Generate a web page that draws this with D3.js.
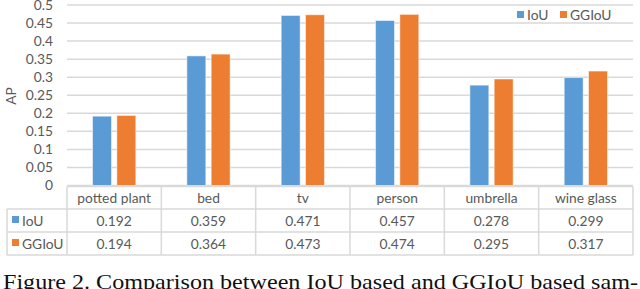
<!DOCTYPE html>
<html><head><meta charset="utf-8">
<script src="https://cdn.jsdelivr.net/npm/d3@7"></script>
<style>body{margin:0;background:#fff;overflow:hidden}svg{display:block}</style>
</head><body>
<script>
const categories = ["potted plant","bed","tv","person","umbrella","wine glass"];
const seriesNames = ["IoU","GGIoU"];
const iou = [0.192,0.359,0.471,0.457,0.278,0.299];
const ggiou = [0.194,0.364,0.473,0.474,0.295,0.317];
const yTicks = [0,0.05,0.1,0.15,0.2,0.25,0.3,0.35,0.4,0.45,0.5];
const yTickLabels = ["0","0.05","0.1","0.15","0.2","0.25","0.3","0.35","0.4","0.45","0.5"];
const colors = ["#5b9bd5","#ed7d31"];
const series = [iou, ggiou];

const W=640,H=289;
const svg=d3.select("body").append("svg").attr("width",W).attr("height",H);
const font="Lato, 'Open Sans', sans-serif";
const fs=13.8;
const txt="#595959", grid="#d9d9d9";
const pLeft=67,pRight=633,pTop=5,pBottom=185.5;

const x=d3.scaleBand().domain(categories).range([pLeft,pRight]).paddingInner(0).paddingOuter(0);
const y=d3.scaleLinear().domain([0,0.5]).range([pBottom,pTop]);
const xs=d3.scaleBand().domain([0,1]).range([0,x.bandwidth()]).paddingInner(0.22).paddingOuter(1.05);

// gridlines
svg.append("g").selectAll("line").data(yTicks).join("line")
 .attr("x1",pLeft).attr("x2",pRight).attr("y1",d=>y(d)).attr("y2",d=>y(d))
 .attr("stroke",grid).attr("stroke-width",1.5);

// y axis labels
const ya=d3.axisLeft(y).tickValues(yTicks).tickFormat((d,i)=>yTickLabels[i]).tickSize(0).tickPadding(0);
const yg=svg.append("g").attr("transform",`translate(53,0)`).call(ya);
yg.select(".domain").remove();
yg.selectAll("text").attr("fill",txt).attr("font-family",font).attr("font-size",fs);

svg.append("text").attr("transform",`translate(16,96) rotate(-90)`).attr("text-anchor","middle")
 .attr("fill",txt).attr("font-family",font).attr("font-size",fs).text("AP");

// bars
series.forEach((s,si)=>{
 svg.append("g").selectAll("rect").data(s).join("rect")
  .attr("x",(d,i)=>x(categories[i])+xs(si)).attr("width",xs.bandwidth())
  .attr("y",d=>y(d)).attr("height",d=>pBottom-y(d))
  .attr("fill",colors[si]).attr("stroke","#fff").attr("stroke-opacity",0.5).attr("stroke-width",1);
});

// legend
const lg=svg.append("g");
[[517,"IoU"],[560,"GGIoU"]].forEach(([lx,t],i)=>{
 lg.append("rect").attr("x",lx).attr("y",11).attr("width",7).attr("height",7).attr("fill",colors[i]);
 lg.append("text").attr("x",lx+10).attr("y",19.5).attr("fill",txt).attr("font-family",font).attr("font-size",fs).text(t);
});

// table
const r0=186.5,r1=209,r2=232,r3=255,tl=7;
const tg=svg.append("g").attr("stroke",grid).attr("stroke-width",1.5);
tg.append("line").attr("x1",pLeft).attr("x2",pRight).attr("y1",r0).attr("y2",r0);
[r1,r2,r3].forEach(yy=>tg.append("line").attr("x1",tl).attr("x2",pRight).attr("y1",yy).attr("y2",yy));
tg.append("line").attr("x1",tl).attr("x2",tl).attr("y1",r1).attr("y2",r3);
categories.forEach(c=>tg.append("line").attr("x1",x(c)).attr("x2",x(c)).attr("y1",r0).attr("y2",r3));
tg.append("line").attr("x1",pRight).attr("x2",pRight).attr("y1",r0).attr("y2",r3);

svg.append("g").selectAll("text").data(categories).join("text")
 .attr("x",d=>x(d)+x.bandwidth()/2).attr("y",(r0+r1)/2+5).attr("text-anchor","middle")
 .attr("fill",txt).attr("font-family",font).attr("font-size",fs).text(d=>d);
const rowsY=[r1,r2];
series.forEach((s,si)=>{
 const cy=(rowsY[si]+rowsY[si]+23)/2+5;
 svg.append("rect").attr("x",12).attr("y",cy-9.5).attr("width",7).attr("height",7).attr("fill",colors[si]);
 svg.append("text").attr("x",22).attr("y",cy).attr("fill",txt).attr("font-family",font).attr("font-size",fs).text(seriesNames[si]);
 svg.append("g").selectAll("text").data(s).join("text")
  .attr("x",(d,i)=>x(categories[i])+x.bandwidth()/2).attr("y",cy).attr("text-anchor","middle")
  .attr("fill",txt).attr("font-family",font).attr("font-size",fs).text(d=>d.toFixed(3));
});

// caption
svg.append("text").attr("x",3).attr("y",289).attr("fill","#111")
 .attr("font-family","'Liberation Serif', 'Times New Roman', serif").attr("font-size",21)
 .attr("textLength",635).attr("lengthAdjust","spacingAndGlyphs")
 .text("Figure 2. Comparison between IoU based and GGIoU based sam-");
</script>
</body></html>
